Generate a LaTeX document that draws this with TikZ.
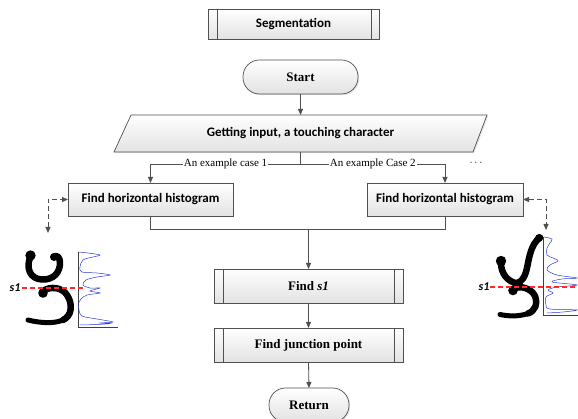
\documentclass[tikz,border=0pt]{standalone}
\usepackage{fontspec}
\setmainfont{Liberation Serif}
\newfontfamily\calib{Carlito}
\usetikzlibrary{arrows.meta,shadows}
\definecolor{linec}{HTML}{505050}
\definecolor{boxbot}{HTML}{E2E2E2}
\definecolor{histblue}{HTML}{2a3ad8}
\definecolor{cutred}{HTML}{FF2A2A}
\begin{document}
\begin{tikzpicture}[x=1pt,y=-1pt,
  boxs/.style={draw=linec, line width=0.7pt, top color=white, bottom color=boxbot,
    inner sep=0pt, outer sep=0pt,
    drop shadow={shadow xshift=1.2pt,shadow yshift=-1.2pt,opacity=0.22}},
  term/.style={boxs, rounded corners=16.5pt},
  conn/.style={draw=linec, line width=0.8pt, -{Triangle[length=6pt,width=5pt]}},
  plain/.style={draw=linec, line width=0.8pt},
  dashconn/.style={draw=linec, line width=0.8pt, dash pattern=on 5pt off 3pt,
    {Triangle[length=6pt,width=5pt]}-{Triangle[length=6pt,width=5pt]}},
  cfont/.style={font=\calib\bfseries\fontsize{13}{15}\selectfont},
  tfont/.style={font=\bfseries\fontsize{13}{15}\selectfont},
  lab/.style={font=\fontsize{11}{13}\selectfont, fill=white, inner sep=1pt},
  ink/.style={draw=black, line width=6.5pt, line cap=round, line join=round},
  axis/.style={draw=black!75, line width=0.8pt},
  hist/.style={draw=histblue, line width=0.5pt},
  cut/.style={draw=cutred, line width=1.2pt, dash pattern=on 5pt off 3pt},
  s1lab/.style={font=\calib\bfseries\itshape\fontsize{12}{14}\selectfont, inner sep=0pt}
]
\useasboundingbox (0,0) rectangle (578,419);

% Segmentation header
\node[boxs, cfont, minimum width=171pt, minimum height=30pt] (seg) at (293.5,24) {Segmentation};
\draw[plain] ([xshift=9pt]seg.north west) -- ([xshift=9pt]seg.south west);
\draw[plain] ([xshift=-8pt]seg.north east) -- ([xshift=-8pt]seg.south east);

% Start
\node[term, tfont, minimum width=115pt, minimum height=34pt] (start) at (300.5,77) {Start};

% Input parallelogram
\path[draw=linec, line width=0.7pt, top color=white, bottom color=boxbot,
  drop shadow={shadow xshift=1.2pt,shadow yshift=-1.2pt,opacity=0.22}]
  (131,115) -- (487,115) -- (473,152) -- (114,152) -- cycle;
\node[cfont] (inp) at (300.5,133.5) {Getting input, a touching character};
\coordinate (inpT) at (300.5,115);
\coordinate (inpB) at (300.5,152);
\draw[conn] (start.south) -- (inpT);

% Histogram boxes
\node[boxs, cfont, minimum width=165pt, minimum height=33pt] (h1) at (150.5,199.5) {Find horizontal histogram};
\node[boxs, cfont, minimum width=156pt, minimum height=33pt] (h2) at (445,199.5) {Find horizontal histogram};

\coordinate (split) at (300.5,164);
\draw[plain] (inpB) -- (split);
\draw[conn] (split) -- node[lab]{An example case 1} (h1.north |- split) -- (h1.north);
\draw[conn] (split) -- node[lab]{An example Case 2} (h2.north |- split) -- (h2.north);
\node[font=\fontsize{11}{13}\selectfont] (more) at (476,163) {$\cdots$};

% merge
\coordinate (merge) at (308.5,229);
\draw[plain] (h1.south) -- (h1.south |- merge) -- (merge);
\draw[plain] (h2.south) -- (h2.south |- merge) -- (merge);

% Find s1
\node[boxs, tfont, minimum width=189pt, minimum height=34pt] (fs) at (308.5,286) {Find \textit{s1}};
\draw[plain] ([xshift=9pt]fs.north west) -- ([xshift=9pt]fs.south west);
\draw[plain] ([xshift=-9pt]fs.north east) -- ([xshift=-9pt]fs.south east);
\draw[conn] (merge) -- (fs.north);

% Find junction point
\node[boxs, tfont, minimum width=189pt, minimum height=34pt] (fj) at (308.5,345) {Find junction point};
\draw[plain] ([xshift=9pt]fj.north west) -- ([xshift=9pt]fj.south west);
\draw[plain] ([xshift=-9pt]fj.north east) -- ([xshift=-9pt]fj.south east);
\draw[conn] (fs.south) -- (fj.north);

% Return
\node[term, tfont, minimum width=80pt, minimum height=34pt] (ret) at (309,405) {Return};
\draw[conn] (fj.south) -- (ret.north);

% dashed links to example images
\coordinate (img1) at (48,233);
\coordinate (img2) at (546,230);
\draw[dashconn] (img1) -- (img1 |- h1.west) -- (h1.west);
\draw[dashconn] (h2.east) -- (h2.east -| img2) -- (img2);

% ---- left example image ----
\draw[axis] (78,252) -- (78,327) -- (118,327);
\draw[hist] plot[smooth, tension=0.55] coordinates {
 (78.3,252) (88,253) (100,255) (93,257) (83,260) (80,267) (82,272) (97,273) (110,275)
 (97,277) (86,280) (83,285) (90,288) (100,288) (90,291) (100,293) (87,295) (81,299)
 (78.5,303) (79,310) (82,316) (97,319) (113,322) (100,323) (110,323.5) (97,324.5) (80,325)};
% upper U
\fill (30.5,255.5) circle (5.2pt);
\draw[ink] (30,258) .. controls (26,268) and (30,279) .. (42,279.5)
  .. controls (54,280) and (60,272) .. (60,263) .. controls (60,257) and (57,255) .. (54,256.5);
\fill (54,257) circle (4pt);
% lower part
\fill (43,293) circle (4.8pt);
\draw[ink] (43,291) .. controls (50,286) and (62,287) .. (67,295)
  .. controls (73,304) and (72,316) .. (63,320);
\draw[ink, line width=5pt] (63,320) .. controls (54,324) and (40,323) .. (28,320);
\draw[cut] (22,288) -- (84,288);
\node[s1lab] (s1a) at (15,288) {s1};

% ---- right example image ----
\draw[axis] (543,237) -- (543,315) -- (580,315);
\draw[hist] plot[smooth, tension=0.55] coordinates {
 (544,237) (552,239) (550,243) (547,248) (547,255) (553,258) (558,261) (550,265)
 (547,270) (557,275) (577,278) (562,279) (552,282) (577,285) (557,287) (548,290)
 (553,293) (546,297) (546,305) (550,309) (577,310) (563,312) (547,313)};
\draw[ink, line width=6.5pt] (540,237.5) .. controls (531,244) and (529,258) .. (527,268)
  .. controls (525,277) and (522,282) .. (516,283.5);
\fill (539,238) circle (4pt);
\fill (501,261) circle (5.2pt);
\draw[ink] (501,263) .. controls (501,273) and (507,282) .. (518,283.5);
\fill (513,290.5) circle (4.8pt);
\draw[ink] (513,289) .. controls (520,285) and (531,288) .. (535,296)
  .. controls (538,304) and (535,311) .. (528,313.5);
\draw[ink, line width=5pt] (528,313.5) .. controls (518,317) and (507,316) .. (500,314.5);
\draw[cut] (490,287) -- (580,287);
\node[s1lab] (s1b) at (484,287) {s1};
\end{tikzpicture}
\end{document}
